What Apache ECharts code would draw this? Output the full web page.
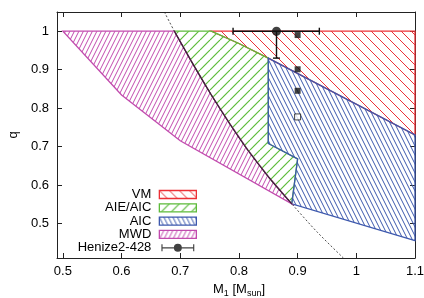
<!DOCTYPE html>
<html><head><meta charset="utf-8">
<script src="https://cdn.jsdelivr.net/npm/echarts@6/dist/echarts.min.js"></script>
<style>html,body{margin:0;padding:0;background:#fff}#c{width:424px;height:298px}</style>
</head><body><div id="c"></div>
<script>
// ---- data ----
const xTicks = [0.5, 0.6, 0.7, 0.8, 0.9, 1, 1.1];
const xTickLabels = ['0.5', '0.6', '0.7', '0.8', '0.9', '1', '1.1'];
const yTicks = [0.5, 0.6, 0.7, 0.8, 0.9, 1];
const yTickLabels = ['0.5', '0.6', '0.7', '0.8', '0.9', '1'];

const legendNames = ['VM', 'AIE/AIC', 'AIC', 'MWD', 'Henize2-428'];

const vmRegion = [[0.753, 1.0], [1.1, 1.0], [1.1, 0.73], [0.85, 0.93], [0.80, 0.968]];
const aieRegion = [[0.69, 1.0], [0.753, 1.0], [0.80, 0.968], [0.85, 0.93], [0.85, 0.708], [0.90, 0.668],
  [0.89, 0.551], [0.852, 0.618], [0.815, 0.691], [0.784, 0.76], [0.753, 0.834], [0.7215, 0.915]];
const aicRegion = [[0.85, 0.93], [1.1, 0.73], [1.1, 0.455], [0.89, 0.551], [0.90, 0.668], [0.85, 0.708]];
const mwdRegion = [[0.5, 1.0], [0.69, 1.0], [0.7215, 0.915], [0.753, 0.834], [0.784, 0.76], [0.815, 0.691],
  [0.852, 0.618], [0.89, 0.551], [0.7, 0.715], [0.6, 0.834]];
const limitCurve = [[0.673, 1.05], [0.69, 1.0], [0.7215, 0.915], [0.753, 0.834], [0.784, 0.76], [0.815, 0.691],
  [0.852, 0.618], [0.89, 0.551], [0.933, 0.478], [0.978, 0.41]];
const limitSolid = [[0.69, 1.0], [0.7215, 0.915], [0.753, 0.834], [0.784, 0.76], [0.815, 0.691],
  [0.852, 0.618], [0.89, 0.551]];
const modelFilled = [[0.9, 0.99], [0.9, 0.901], [0.9, 0.845]];
const modelOpen = [[0.9, 0.777]];
const henize = [[0.864, 1.0]];
const henizeXErr = [[0.79, 0.937]];
const henizeQLow = [0.93];

// ---- styles ----
const FONT = 'Liberation Sans, Arial, Helvetica, sans-serif';
const C_RED = '#ec3036', C_GREEN = '#5dbb3a', C_BLUE = '#3d58ad', C_MAG = '#c24bae';

function hatch(color, dir, spacing, slope, copies, lw) {
  const W = Math.round(spacing * copies), H = Math.round(W * slope);
  const cv = document.createElement('canvas');
  cv.width = W; cv.height = H;
  const ctx = cv.getContext('2d');
  ctx.clearRect(0, 0, W, H);
  ctx.strokeStyle = color; ctx.lineWidth = lw || 1;
  for (let k = -copies - 1; k <= copies + 1; k++) {
    const x0 = k * spacing;
    ctx.beginPath();
    if (dir === '/') { ctx.moveTo(x0, H); ctx.lineTo(x0 + W, 0); }
    else { ctx.moveTo(x0, 0); ctx.lineTo(x0 + W, H); }
    ctx.stroke();
  }
  return cv;
}
const HATCH = {
  red: hatch(C_RED, '\\', 10, 1, 1, 1),
  green: hatch(C_GREEN, '/', 10, 1, 1, 1.2),
  blue: hatch(C_BLUE, '\\', 4.5, 2, 2, 1),
  mag: hatch(C_MAG, '/', 4.5, 2, 2, 1)
};
function pat(key) { return { image: HATCH[key], repeat: 'repeat' }; }

function polySeries(name, pts, key, stroke, z) {
  const fillPat = pat(key);
  return {
    name, type: 'custom', data: pts, encode: { x: 0, y: 1 }, z: z,
    itemStyle: { color: stroke },
    renderItem(params, api) {
      if (params.dataIndex !== 0) return null;
      return {
        type: 'polygon',
        shape: { points: pts.map(p => api.coord(p)) },
        style: { fill: fillPat, stroke: stroke, lineWidth: 1.3 }
      };
    }
  };
}

const chart = echarts.init(document.getElementById('c'), null, { renderer: 'canvas' });

const axisCommon = {
  type: 'value',
  splitLine: { show: false },
  axisLine: { show: true, onZero: false, lineStyle: { color: '#222', width: 1 } },
  axisTick: { show: true, inside: true, length: 5, lineStyle: { color: '#222', width: 1 } }
};

const option = {
  animation: false,
  backgroundColor: '#fff',
  grid: { left: 57, right: 9, top: 12, bottom: 40, outerBoundsMode: 'none' },
  xAxis: [
    Object.assign({}, axisCommon, {
      min: 0.49, max: 1.1, position: 'bottom',
      axisTick: Object.assign({}, axisCommon.axisTick, { customValues: xTicks }),
      axisLabel: { customValues: xTicks, margin: 7, fontSize: 13, fontFamily: FONT, color: '#000',
        formatter: v => xTickLabels[xTicks.findIndex(t => Math.abs(t - v) < 1e-6)] },
      name: 'M{s|1} [M{s|sun}]', nameLocation: 'middle', nameGap: 17,
      nameTextStyle: { fontSize: 13, fontFamily: FONT, color: '#000', padding: [0, 0, 0, 6],
        rich: { s: { fontSize: 9, fontFamily: FONT, color: '#000', padding: [8, 0, 0, 0] } } }
    }),
    Object.assign({}, axisCommon, {
      min: 0.49, max: 1.1, position: 'top',
      axisTick: Object.assign({}, axisCommon.axisTick, { customValues: xTicks }),
      axisLabel: { show: false }
    })
  ],
  yAxis: [
    Object.assign({}, axisCommon, {
      min: 0.41, max: 1.05, position: 'left',
      axisTick: Object.assign({}, axisCommon.axisTick, { customValues: yTicks }),
      axisLabel: { customValues: yTicks, margin: 8, fontSize: 13, fontFamily: FONT, color: '#000',
        formatter: v => yTickLabels[yTicks.findIndex(t => Math.abs(t - v) < 1e-6)] },
      name: 'q', nameLocation: 'middle', nameGap: 36, nameRotate: 90,
      nameTextStyle: { fontSize: 13, fontFamily: FONT, color: '#000' }
    }),
    Object.assign({}, axisCommon, {
      min: 0.41, max: 1.05, position: 'right',
      axisTick: Object.assign({}, axisCommon.axisTick, { customValues: yTicks }),
      axisLabel: { show: false }
    })
  ],
  legend: {
    orient: 'vertical', right: 227, top: 188, align: 'right', padding: 0,
    itemWidth: 37, itemHeight: 8, itemGap: 0.3, selectedMode: false,
    textStyle: { fontSize: 13, fontFamily: FONT, color: '#000', lineHeight: 13, padding: [0, 3, 0, 0] },
    data: [
      { name: legendNames[0], icon: 'rect', itemStyle: { color: pat('red'), borderColor: C_RED, borderWidth: 1.3 } },
      { name: legendNames[1], icon: 'rect', itemStyle: { color: pat('green'), borderColor: C_GREEN, borderWidth: 1.3 } },
      { name: legendNames[2], icon: 'rect', itemStyle: { color: pat('blue'), borderColor: C_BLUE, borderWidth: 1.3 } },
      { name: legendNames[3], icon: 'rect', itemStyle: { color: pat('mag'), borderColor: C_MAG, borderWidth: 1.3 } },
      { name: legendNames[4], icon: 'path://M0,0.5h1.3v8h-1.3z M1,4h14v1.3h-14z M22,4h14v1.3h-14z M35.7,0.5h1.3v8h-1.3z M14,4.5a4.5,4.5 0 1,1 9,0a4.5,4.5 0 1,1 -9,0z',
        itemStyle: { color: '#111', borderWidth: 0 } }
    ]
  },
  series: [
    polySeries(legendNames[1], aieRegion, 'green', C_GREEN, 2),
    polySeries(legendNames[0], vmRegion, 'red', C_RED, 1),
    polySeries(legendNames[2], aicRegion, 'blue', C_BLUE, 3),
    polySeries(legendNames[3], mwdRegion, 'mag', C_MAG, 3),
    {
      type: 'line', data: limitCurve, symbol: 'none', smooth: 0.3, silent: true, z: 4,
      lineStyle: { color: '#222', width: 0.8, type: [2, 2] }
    },
    {
      type: 'line', data: limitSolid, symbol: 'none', smooth: 0.3, silent: true, z: 4,
      lineStyle: { color: '#3a1f38', width: 1.1 }
    },
    {
      type: 'scatter', data: modelFilled, symbol: 'rect', symbolSize: 6, z: 5,
      itemStyle: { color: '#111' }
    },
    {
      type: 'scatter', data: modelOpen, symbol: 'rect', symbolSize: 6, z: 5,
      itemStyle: { color: '#fff', borderColor: '#111', borderWidth: 1 }
    },
    {
      type: 'custom', data: henize, encode: { x: 0, y: 1 }, silent: true, z: 5,
      renderItem(params, api) {
        const i = params.dataIndex;
        const l = api.coord([henizeXErr[i][0], henize[i][1]]);
        const r = api.coord([henizeXErr[i][1], henize[i][1]]);
        const c = api.coord(henize[i]);
        const b = api.coord([henize[i][0], henizeQLow[i]]);
        const cap = 3.5;
        const st = { stroke: '#111', lineWidth: 1.4 };
        return { type: 'group', children: [
          { type: 'line', shape: { x1: l[0], y1: l[1], x2: r[0], y2: r[1] }, style: st },
          { type: 'line', shape: { x1: l[0], y1: l[1] - cap, x2: l[0], y2: l[1] + cap }, style: st },
          { type: 'line', shape: { x1: r[0], y1: r[1] - cap, x2: r[0], y2: r[1] + cap }, style: st },
          { type: 'line', shape: { x1: c[0], y1: c[1], x2: b[0], y2: b[1] }, style: st },
          { type: 'line', shape: { x1: b[0] - cap, y1: b[1], x2: b[0] + cap, y2: b[1] }, style: st }
        ] };
      }
    },
    {
      name: legendNames[4], type: 'scatter', data: henize, symbol: 'circle', symbolSize: 9, z: 6,
      itemStyle: { color: '#111' }
    }
  ]
};
chart.setOption(option);
</script>
</body></html>
